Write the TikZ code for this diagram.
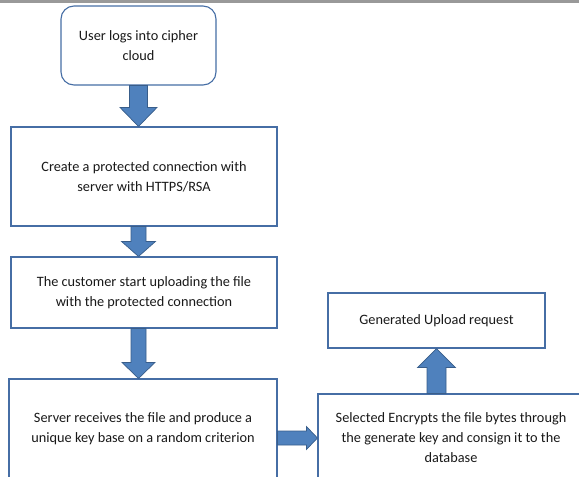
\documentclass[tikz,border=0pt]{standalone}
\usepackage{fontspec}
\setmainfont{Carlito}
\usetikzlibrary{calc}

\definecolor{boxline}{RGB}{70,110,165}
\definecolor{arrowfill}{RGB}{79,129,189}
\definecolor{arrowline}{RGB}{56,93,138}

\tikzset{
  stepbox/.style={draw=boxline, line width=1.1pt, fill=white, inner sep=0pt, align=center,
    font=\fontsize{14.3}{20}\selectfont, text=black!90},
  blockarrow/.style={fill=arrowfill, draw=arrowline, line width=0.7pt, line join=miter}
}

% fat arrow: start, tip, half shaft width, half head width, head length
\newcommand\fatarrow[5]{%
  \coordinate (fa-s) at (#1);
  \coordinate (fa-t) at (#2);
  \coordinate (fa-h) at ($(fa-t)!#5!(fa-s)$);
  \filldraw[blockarrow] ($(fa-s)!#3!90:(fa-t)$) -- ($(fa-h)!#3!-90:(fa-s)$) -- ($(fa-h)!#4!-90:(fa-s)$)
    -- (fa-t) -- ($(fa-h)!#4!90:(fa-s)$) -- ($(fa-h)!#3!90:(fa-s)$) -- ($(fa-s)!#3!-90:(fa-t)$) -- cycle;
}

\begin{document}
\begin{tikzpicture}[x=1pt, y=-1pt]

\useasboundingbox (0,0) rectangle (579,477);
\clip (0,0) rectangle (579,477);

%grey rule along the top
\fill[black!40] (0,0) rectangle (579,3);

%the steps
\node[stepbox, rounded corners=13pt, minimum width=155pt, minimum height=79pt] (login) at (138.5,45.5) {User logs into cipher\\cloud};
\node[stepbox, minimum width=266pt, minimum height=99pt] (conn) at (144,176.5) {Create a protected connection with\\server with HTTPS/RSA};
\node[stepbox, minimum width=266pt, minimum height=71pt] (upload) at (144,292.5) {The customer start uploading the file\\with the protected connection};
\node[stepbox, minimum width=268pt, minimum height=100pt] (server) at (143,429) {Server receives the file and produce a\\unique key base on a random criterion};
\node[stepbox, minimum width=266pt, minimum height=88pt] (select) at (451,438) {Selected Encrypts the file bytes through\\the generate key and consign it to the\\database};
\node[stepbox, minimum width=217pt, minimum height=55pt] (request) at (436.5,320.5) {Generated Upload request};

%arrows between the steps
\fatarrow{login.south}{login.south |- conn.north}{9pt}{18.5pt}{19pt}
\fatarrow{login.south |- conn.south}{login.south |- upload.north}{7.5pt}{17pt}{15pt}
\fatarrow{login.south |- upload.south}{login.south |- server.north}{7.5pt}{16.5pt}{16pt}
\fatarrow{server.east |- select.west}{select.west}{7pt}{11.5pt}{11pt}
\fatarrow{request.south |- select.north}{request.south}{9.5pt}{19pt}{19pt}

\end{tikzpicture}
\end{document}
